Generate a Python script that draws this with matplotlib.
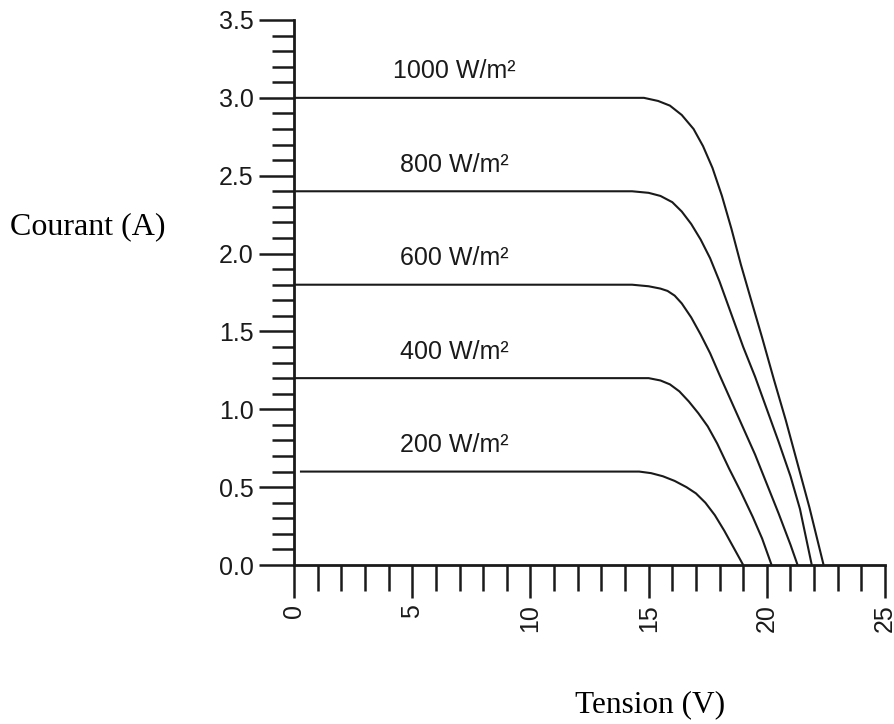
import matplotlib
matplotlib.use('Agg')
import matplotlib.pyplot as plt
from matplotlib.ticker import MultipleLocator, FormatStrFormatter

# I-V curves, one pair per irradiance
v_1000 = [0, 14.8, 15.4, 15.9, 16.4, 16.9, 17.3, 17.7, 18.1, 18.5, 18.9, 19.3, 19.8, 20.3, 20.8, 21.3, 21.8, 22.4]
i_1000 = [3.0, 3.0, 2.98, 2.95, 2.89, 2.80, 2.69, 2.55, 2.37, 2.16, 1.93, 1.72, 1.46, 1.19, 0.93, 0.65, 0.37, 0.0]

v_800 = [0, 14.3, 15.0, 15.5, 16.0, 16.4, 16.8, 17.2, 17.6, 18.0, 18.5, 19.0, 19.5, 20.0, 20.5, 21.0, 21.4, 21.9]
i_800 = [2.4, 2.4, 2.39, 2.37, 2.33, 2.27, 2.19, 2.09, 1.97, 1.82, 1.61, 1.40, 1.21, 1.00, 0.79, 0.57, 0.36, 0.0]

v_600 = [0, 14.3, 15.0, 15.5, 15.8, 16.1, 16.4, 16.8, 17.2, 17.6, 18.0, 18.5, 19.0, 19.5, 20.0, 20.5, 21.0, 21.3]
i_600 = [1.8, 1.8, 1.79, 1.775, 1.76, 1.73, 1.68, 1.59, 1.48, 1.36, 1.22, 1.05, 0.88, 0.71, 0.52, 0.33, 0.13, 0.0]

v_400 = [0, 15.0, 15.5, 15.9, 16.3, 16.7, 17.1, 17.5, 17.9, 18.4, 18.9, 19.4, 19.8, 20.2]
i_400 = [1.2, 1.2, 1.185, 1.16, 1.115, 1.05, 0.975, 0.89, 0.78, 0.62, 0.47, 0.31, 0.17, 0.0]

v_200 = [0.25, 14.6, 15.1, 15.6, 16.1, 16.6, 17.0, 17.4, 17.8, 18.2, 18.6, 19.0]
i_200 = [0.6, 0.6, 0.59, 0.57, 0.54, 0.50, 0.46, 0.40, 0.32, 0.22, 0.11, 0.0]

curves = [(v_1000, i_1000, '1000 W/m²'),
          (v_800, i_800, '800 W/m²'),
          (v_600, i_600, '600 W/m²'),
          (v_400, i_400, '400 W/m²'),
          (v_200, i_200, '200 W/m²')]

ink = '#1a1a1a'
sans = 'Liberation Sans'
serif = 'Liberation Serif'

fig = plt.figure(figsize=(8.94, 7.24), dpi=100)
ax = fig.add_axes([0.3289, 0.2196, 0.6611, 0.7528])

for v, i, name in curves:
    ax.plot(v, i, color=ink, lw=1.5, clip_on=False,
            solid_joinstyle='round', solid_capstyle='butt')
    ax.text(6.8, i[0] + 0.17, name, ha='center', va='center',
            fontsize=18, family=sans, color=ink)

ax.set_xlim(0, 25)
ax.set_ylim(0, 3.5)

# axes look
for s in ['top', 'right']:
    ax.spines[s].set_visible(False)
for s in ['left', 'bottom']:
    ax.spines[s].set_linewidth(2.0)
    ax.spines[s].set_color(ink)

ax.xaxis.set_major_locator(MultipleLocator(5))
ax.xaxis.set_minor_locator(MultipleLocator(1))
ax.yaxis.set_major_locator(MultipleLocator(0.5))
ax.yaxis.set_minor_locator(MultipleLocator(0.1))
ax.yaxis.set_major_formatter(FormatStrFormatter('%.1f'))

ax.tick_params(axis='x', which='major', length=24, width=1.8, color=ink, pad=4,
               labelsize=18, labelrotation=90, labelcolor=ink)
ax.tick_params(axis='x', which='minor', length=19, width=1.8, color=ink)
ax.tick_params(axis='y', which='major', length=25, width=1.8, color=ink, pad=4,
               labelsize=18, labelcolor=ink)
ax.tick_params(axis='y', which='minor', length=16, width=1.8, color=ink)
for lab in ax.get_xticklabels() + ax.get_yticklabels():
    lab.set_family(sans)

fig.text(0.011, 0.687, 'Courant (A)', ha='left', va='center',
         fontsize=23, family=serif, color='black')
fig.text(0.727, 0.026, 'Tension (V)', ha='center', va='center',
         fontsize=22.5, family=serif, color='black')

fig.savefig('out.png', dpi=100)
